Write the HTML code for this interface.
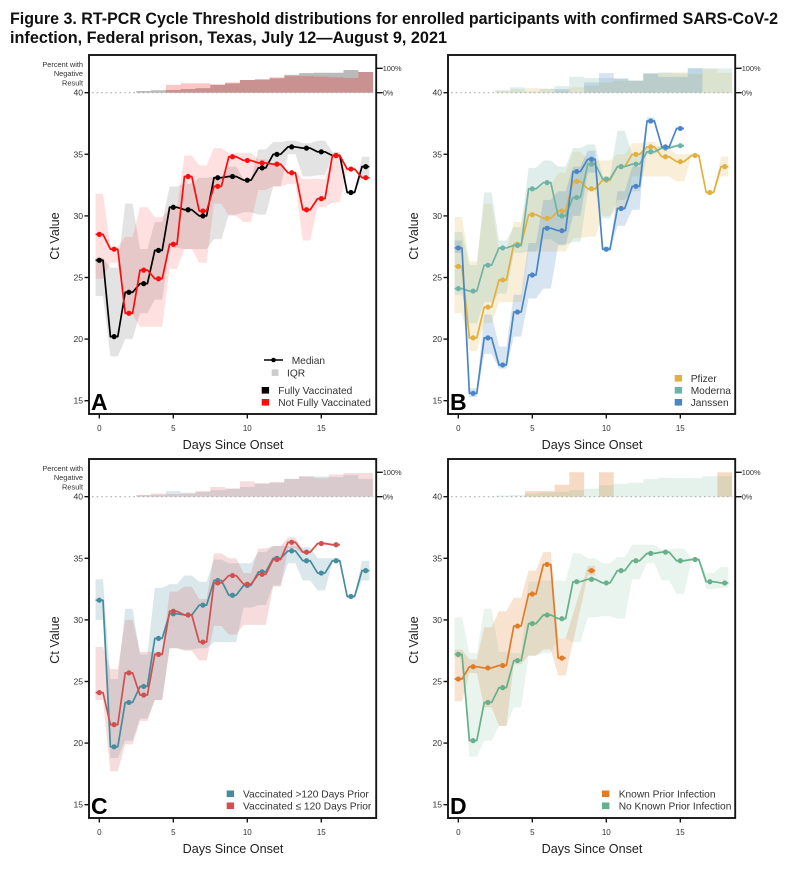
<!DOCTYPE html>
<html lang="en">
<head>
<meta charset="utf-8">
<title>Figure 3. RT-PCR Cycle Threshold distributions</title>
<style>
  html, body { margin: 0; padding: 0; background: #fff; }
  #figure { display: block; width: 786px; height: 880px; font-family: "Liberation Sans", sans-serif; }
  text { font-family: "Liberation Sans", sans-serif; }
  .panel { filter: blur(0.3px); }
</style>
</head>
<body>
<svg id="figure" xmlns="http://www.w3.org/2000/svg" width="786" height="880" viewBox="0 0 786 880">
  <rect width="786" height="880" fill="#fff"/>
  <text x="10" y="24" font-size="16.6" font-weight="700" fill="#111" textLength="768" lengthAdjust="spacingAndGlyphs">Figure 3. RT-PCR Cycle Threshold distributions for enrolled participants with confirmed SARS-CoV-2</text>
  <text x="10" y="43" font-size="16.6" font-weight="700" fill="#111" textLength="437" lengthAdjust="spacingAndGlyphs">infection, Federal prison, Texas, July 12—August 9, 2021</text>
</svg>
<script>
// ---------- axis data ----------
const xTickValues = [0, 5, 10, 15];
const yTickValues = [15, 20, 25, 30, 35, 40];
const pctTickValues = [0, 100];

// ---------- Panel A ----------
const fullyVaxMedian = [26.4, 20.2, 23.8, 24.5, 27.2, 30.7, 30.5, 30.0, 33.1, 33.2, 32.9, 33.9, 35.0, 35.6, 35.5, 35.2, 34.9, 31.9, 34.0];
const fullyVaxUpper = [26.6, 25.8, 31.0, 27.3, 29.5, 32.4, 32.6, 33.1, 33.2, 34.0, 33.0, 35.4, 36.0, 36.1, 35.9, 36.1, 35.2, 32.0, 34.8];
const fullyVaxLower = [23.5, 18.6, 20.0, 22.1, 23.2, 27.4, 27.3, 27.3, 28.1, 30.1, 30.3, 30.1, 32.4, 35.0, 33.2, 33.3, 34.9, 31.8, 33.2];
const fullyVaxNegative = [0, 0, 0, 7, 10, 11, 15, 19, 32, 38, 52, 55, 59, 73, 80, 82, 82, 93, 85];
const notFullyMedian = [28.5, 27.3, 22.1, 25.6, 24.9, 27.7, 33.2, 30.4, 32.4, 34.8, 34.5, 34.3, 34.2, 33.5, 30.5, 31.4, 34.9, 33.8, 33.1];
const notFullyUpper = [31.8, 27.5, 28.3, 30.7, 29.9, 30.6, 34.9, 34.1, 35.5, 35.1, 35.1, 34.6, 34.2, 33.6, 33.0, 33.0, 35.0, 33.9, 33.2];
const notFullyLower = [24.9, 26.2, 22.0, 21.0, 21.0, 25.7, 27.3, 26.2, 31.0, 30.0, 29.5, 32.1, 32.4, 32.6, 28.0, 30.7, 31.1, 33.7, 33.0];
const notFullyNegative = [0, 0, 0, 0, 0, 32, 38, 38, 34, 42, 52, 52, 63, 68, 68, 66, 63, 60, 85];

// ---------- Panel B ----------
const pfizerMedian = [25.9, 20.1, 22.6, 24.8, 27.7, 30.1, 29.8, 30.4, 32.8, 32.2, 32.9, 34.0, 35.0, 35.6, 34.8, 34.4, 34.9, 31.9, 34.0];
const pfizerUpper = [29.9, 26.3, 31.0, 27.2, 29.5, 32.2, 32.5, 33.5, 35.2, 34.5, 34.5, 35.0, 35.9, 36.0, 35.5, 35.0, 35.0, 32.0, 34.8];
const pfizerLower = [22.1, 19.0, 21.3, 23.0, 23.0, 27.1, 27.1, 27.1, 28.2, 28.3, 30.0, 30.5, 33.2, 33.2, 33.2, 32.8, 34.8, 31.8, 33.2];
const pfizerNegative = [0, 0, 0, 8, 14, 19, 16, 8, 22, 29, 42, 49, 49, 77, 82, 84, 77, 96, 81];
const modernaMedian = [24.1, 23.9, 26.0, 27.4, 27.6, 32.2, 32.7, 30.0, 31.5, 34.2, 33.0, 34.0, 34.2, 35.2, 35.5, 35.7];
const modernaUpper = [28.7, 26.0, 31.9, 28.0, 29.1, 33.9, 34.5, 34.0, 35.5, 35.8, 33.2, 36.9, 35.0, 35.5, 35.7, 35.8];
const modernaLower = [23.6, 21.3, 23.0, 23.7, 27.0, 27.1, 28.1, 27.7, 27.9, 32.0, 29.8, 31.3, 32.0, 35.0, 35.4, 35.6];
const modernaNegative = [0, 0, 0, 10, 22, 5, 16, 27, 65, 60, 60, 58, 49, 79, 83, 79, 100, 100, 99];
const janssenMedian = [27.4, 15.6, 20.1, 17.9, 22.2, 25.2, 29.0, 28.8, 33.6, 34.6, 27.3, 30.6, 32.4, 37.7, 35.6, 37.1];
const janssenUpper = [28.0, 16.0, 22.0, 19.4, 23.6, 27.8, 31.3, 32.0, 34.0, 35.3, 27.5, 32.0, 34.0, 38.0, 35.7, 37.2];
const janssenLower = [27.0, 15.3, 18.8, 17.6, 20.2, 23.3, 24.1, 27.6, 30.0, 33.5, 27.1, 29.2, 30.5, 37.5, 35.5, 37.0];
const janssenNegative = [0, 0, 0, 0, 0, 0, 0, 15, 0, 42, 80, 58, 50, 79, 65, 65, 100];

// ---------- Panel C ----------
const olderVaxMedian = [31.6, 19.7, 23.3, 24.6, 28.5, 30.5, 30.4, 31.2, 33.2, 32.0, 32.8, 33.9, 35.0, 35.6, 34.8, 33.8, 34.8, 31.9, 34.0];
const olderVaxUpper = [33.3, 25.2, 30.9, 27.2, 32.6, 32.9, 33.6, 33.1, 34.9, 34.6, 34.6, 35.5, 36.0, 36.0, 35.9, 35.0, 35.0, 32.0, 34.8];
const olderVaxLower = [30.0, 18.8, 20.2, 22.0, 23.5, 27.7, 27.6, 27.7, 28.2, 28.2, 31.0, 31.2, 32.8, 34.6, 33.2, 32.4, 34.7, 31.8, 33.2];
const olderVaxNegative = [0, 0, 0, 7, 8, 23, 16, 20, 27, 33, 40, 53, 57, 73, 84, 83, 80, 89, 73];
const recentVaxMedian = [24.1, 21.5, 25.7, 23.9, 27.2, 30.7, 30.4, 28.2, 33.0, 33.6, 32.9, 33.7, 34.9, 36.3, 35.5, 36.2, 36.1];
const recentVaxUpper = [27.8, 26.0, 30.0, 27.4, 27.4, 32.3, 32.7, 31.7, 35.4, 35.0, 33.8, 35.8, 36.0, 36.7, 35.6, 36.3, 36.2];
const recentVaxLower = [23.5, 17.7, 19.9, 21.8, 23.5, 27.7, 27.5, 26.7, 29.5, 28.8, 29.6, 29.6, 32.7, 35.8, 35.4, 36.1, 36.0];
const recentVaxNegative = [0, 0, 0, 7, 13, 11, 13, 23, 40, 33, 63, 55, 60, 73, 83, 76, 91, 97, 97];

// ---------- Panel D ----------
const priorInfectionMedian = [25.2, 26.2, 26.1, 26.3, 29.5, 32.1, 34.5, 26.9, null, 34.0];
const priorInfectionUpper = [27.6, 26.8, 29.4, 30.7, 31.8, 34.0, 35.5, 28.5, null, 34.4];
const priorInfectionLower = [23.4, 25.7, 22.9, 21.4, 26.4, 27.1, 27.6, 25.5, null, 33.6];
const priorInfectionNegative = [0, 0, 0, 0, 0, 23, 23, 49, 100, 0, 100, 0, 0, 0, 0, 0, 0, 0, 100];
const noPriorMedian = [27.2, 20.2, 23.3, 24.5, 26.7, 29.7, 30.4, 30.1, 33.1, 33.3, 33.0, 34.0, 34.8, 35.4, 35.5, 34.8, 34.9, 33.1, 33.0];
const noPriorUpper = [30.2, 27.3, 30.9, 27.4, 27.3, 33.1, 33.2, 33.2, 35.4, 35.0, 34.6, 35.1, 36.1, 36.1, 35.7, 35.8, 35.0, 33.8, 34.3];
const noPriorLower = [26.9, 18.9, 20.2, 21.4, 22.9, 27.1, 27.3, 28.5, 28.2, 30.2, 30.3, 30.1, 33.3, 34.6, 33.2, 32.1, 34.8, 32.5, 32.6];
const noPriorNegative = [0, 0, 0, 5, 7, 13, 17, 20, 27, 33, 47, 53, 57, 72, 77, 76, 76, 84, 84];

// ---------- panel configuration ----------
const panels = [
  { id: 'a', letter: 'A', left: 89, top: 55, showNegLabel: true, series: [
    { key: 'fully-vaccinated', color: '#000000', median: fullyVaxMedian, upper: fullyVaxUpper, lower: fullyVaxLower, negative: fullyVaxNegative, ribbonAlpha: 0.11, barAlpha: 0.27 },
    { key: 'not-fully-vaccinated', color: '#fb0d0d', median: notFullyMedian, upper: notFullyUpper, lower: notFullyLower, negative: notFullyNegative, ribbonAlpha: 0.13, barAlpha: 0.24 }
  ], legend: [
    { label: 'Fully Vaccinated', color: '#000000', sx: 261.7, tx: 278.3, base: 394 },
    { label: 'Not Fully Vaccinated', color: '#fb0d0d', sx: 261.7, tx: 278.3, base: 406 }
  ] },
  { id: 'b', letter: 'B', left: 448, top: 55, showNegLabel: false, series: [
    { key: 'pfizer', color: '#e0b040', median: pfizerMedian, upper: pfizerUpper, lower: pfizerLower, negative: pfizerNegative, ribbonAlpha: 0.2, barAlpha: 0.2 },
    { key: 'moderna', color: '#6fb3a5', median: modernaMedian, upper: modernaUpper, lower: modernaLower, negative: modernaNegative, ribbonAlpha: 0.22, barAlpha: 0.22 },
    { key: 'janssen', color: '#4a86c5', median: janssenMedian, upper: janssenUpper, lower: janssenLower, negative: janssenNegative, ribbonAlpha: 0.22, barAlpha: 0.22 }
  ], legend: [
    { label: 'Pfizer', color: '#e0b040', sx: 674.7, tx: 690.7, base: 382 },
    { label: 'Moderna', color: '#6fb3a5', sx: 674.7, tx: 690.7, base: 394 },
    { label: 'Janssen', color: '#4a86c5', sx: 674.7, tx: 690.7, base: 406 }
  ] },
  { id: 'c', letter: 'C', left: 89, top: 459, showNegLabel: true, series: [
    { key: 'vaccinated-over-120-days', color: '#458c9e', median: olderVaxMedian, upper: olderVaxUpper, lower: olderVaxLower, negative: olderVaxNegative, ribbonAlpha: 0.2, barAlpha: 0.2 },
    { key: 'vaccinated-within-120-days', color: '#d05050', median: recentVaxMedian, upper: recentVaxUpper, lower: recentVaxLower, negative: recentVaxNegative, ribbonAlpha: 0.2, barAlpha: 0.2 }
  ], legend: [
    { label: 'Vaccinated >120 Days Prior', color: '#458c9e', sx: 226.7, tx: 243, base: 797.5 },
    { label: 'Vaccinated ≤ 120 Days Prior', color: '#d05050', sx: 226.7, tx: 243, base: 809.5 }
  ] },
  { id: 'd', letter: 'D', left: 448, top: 459, showNegLabel: false, series: [
    { key: 'known-prior-infection', color: '#e07b28', median: priorInfectionMedian, upper: priorInfectionUpper, lower: priorInfectionLower, negative: priorInfectionNegative, ribbonAlpha: 0.22, barAlpha: 0.28 },
    { key: 'no-known-prior-infection', color: '#66b08a', median: noPriorMedian, upper: noPriorUpper, lower: noPriorLower, negative: noPriorNegative, ribbonAlpha: 0.14, barAlpha: 0.17 }
  ], legend: [
    { label: 'Known Prior Infection', color: '#e07b28', sx: 602, tx: 618.7, base: 797.5 },
    { label: 'No Known Prior Infection', color: '#66b08a', sx: 602, tx: 618.7, base: 809.5 }
  ] }
];

// ---------- drawing ----------
const SVG_NS = 'http://www.w3.org/2000/svg';
const root = document.getElementById('figure');

function make(tag, attrs, parent, content) {
  const node = document.createElementNS(SVG_NS, tag);
  for (const k in attrs) node.setAttribute(k, attrs[k]);
  if (content !== undefined) node.textContent = content;
  parent.appendChild(node);
  return node;
}

panels.forEach(function (panel) {
  const dy = panel.top - 55;
  const frameW = 287.2;
  const frameH = 359;
  const xScale = function (d) { return panel.left + 10.3 + 14.8 * d; };
  const yScale = function (v) { return dy + 400.7 - (v - 15) * 12.32; };
  const pctScale = function (p) { return dy + 92.7 - p * 0.244; };
  const plateau = 0.25;

  const g = make('g', { class: 'panel' }, root);
  
  

  // IQR ribbons
  panel.series.forEach(function (s) {
    let top = '', bottom = '';
    s.upper.forEach(function (u, d) {
      if (u === null) return;
      const l = s.lower[d];
      top += (top ? 'L' : 'M') + xScale(d - plateau) + ' ' + yScale(u) + 'L' + xScale(d + plateau) + ' ' + yScale(u);
      bottom = 'L' + xScale(d + plateau) + ' ' + yScale(l) + 'L' + xScale(d - plateau) + ' ' + yScale(l) + bottom;
    });
    const ribbon = make('path', { d: top + bottom + 'Z', fill: s.color, 'fill-opacity': s.ribbonAlpha }, g);
    
    
  });

  // percent-negative step bars
  panel.series.forEach(function (s) {
    let path = 'M' + xScale(-0.5) + ' ' + pctScale(0);
    s.negative.forEach(function (p, d) {
      path += 'L' + xScale(d - 0.5) + ' ' + pctScale(p) + 'L' + xScale(d + 0.5) + ' ' + pctScale(p);
    });
    path += 'L' + xScale(s.negative.length - 0.5) + ' ' + pctScale(0) + 'Z';
    const bars = make('path', { d: path, fill: s.color, 'fill-opacity': s.barAlpha }, g);
    
    
  });

  // zero-percent dotted reference line
  const dotted = make('line', { x1: panel.left + 3, x2: panel.left + frameW - 3, y1: yScale(40), y2: yScale(40), stroke: '#b0b0b0', 'stroke-width': 1.1, 'stroke-dasharray': '1.6 3' }, g);
  
  

  // median lines and markers
  panel.series.forEach(function (s) {
    let path = '';
    let pen = false;
    s.median.forEach(function (m, d) {
      if (m === null) { pen = false; return; }
      path += (pen ? 'L' : 'M') + xScale(d - plateau) + ' ' + yScale(m) + 'L' + xScale(d + plateau) + ' ' + yScale(m);
      pen = true;
    });
    const line = make('path', { d: path, fill: 'none', stroke: s.color, 'stroke-width': 1.7, 'stroke-linejoin': 'round' }, g);
    
    
    s.median.forEach(function (m, d) {
      if (m === null) return;
      const dot = make('circle', { cx: xScale(d), cy: yScale(m), r: 2.6, fill: s.color }, g);
      
      
    });
  });

  // frame
  const frame = make('rect', { x: panel.left, y: panel.top, width: frameW, height: frameH, fill: 'none', stroke: '#151515', 'stroke-width': 1.9 }, g);
  
  

  // x axis
  xTickValues.forEach(function (v) {
    const tick = make('line', { x1: xScale(v), x2: xScale(v), y1: panel.top + frameH, y2: panel.top + frameH + 4.5, stroke: '#151515', 'stroke-width': 1.4 }, g);
    
    
    const label = make('text', { x: xScale(v), y: panel.top + 376, 'font-size': 8, 'text-anchor': 'middle', fill: '#333' }, g, String(v));
    
    
  });
  const xTitle = make('text', { x: panel.left + 144, y: panel.top + 394, 'font-size': 12.6, 'text-anchor': 'middle', fill: '#222' }, g, 'Days Since Onset');
  
  

  // y axis
  yTickValues.forEach(function (v) {
    const tick = make('line', { x1: panel.left - 4.5, x2: panel.left, y1: yScale(v), y2: yScale(v), stroke: '#151515', 'stroke-width': 1.4 }, g);
    
    
    const label = make('text', { x: panel.left - 6, y: yScale(v) + 3, 'font-size': 8.6, 'text-anchor': 'end', fill: '#333' }, g, String(v));
    
    
  });
  const yTitleX = panel.left - 30;
  const yTitleY = dy + 236;
  const yTitle = make('text', { x: yTitleX, y: yTitleY, 'font-size': 12.6, 'text-anchor': 'middle', fill: '#222', transform: 'rotate(-90 ' + yTitleX + ' ' + yTitleY + ')' }, g, 'Ct Value');
  
  

  // right percent axis
  pctTickValues.forEach(function (p) {
    const tick = make('line', { x1: panel.left + frameW, x2: panel.left + frameW + 6.5, y1: pctScale(p), y2: pctScale(p), stroke: '#151515', 'stroke-width': 1.4 }, g);
    
    
    const label = make('text', { x: panel.left + frameW + 6.5, y: pctScale(p) + 2.6, 'font-size': 7.4, fill: '#333' }, g, p + '%');
    
    
  });

  // "Percent with Negative Result" caption
  if (panel.showNegLabel) {
    ['Percent with', 'Negative', 'Result'].forEach(function (word, i) {
      const cap = make('text', { x: panel.left - 6, y: dy + 67 + i * 9.2, 'font-size': 7.4, 'text-anchor': 'end', fill: '#333' }, g, word);
      
      
    });
  }

  // panel letter
  const letter = make('text', { x: panel.left + 2, y: panel.top + frameH - 4, 'font-size': 23, 'font-weight': 700, fill: '#000' }, g, panel.letter);
  
  

  // legend
  panel.legend.forEach(function (entry) {
    const swatch = make('rect', { x: entry.sx, y: entry.base - 7, width: 7.4, height: 6.6, fill: entry.color }, g);
    
    
    const text = make('text', { x: entry.tx, y: entry.base, 'font-size': 10.2, fill: '#333' }, g, entry.label);
    
    
  });

  // median / IQR key (panel A only)
  if (panel.id === 'a') {
    const keyLine = make('line', { x1: 264, x2: 283, y1: 360, y2: 360, stroke: '#000', 'stroke-width': 1.5 }, g);
    
    
    const keyDot = make('circle', { cx: 273.5, cy: 360, r: 2.3, fill: '#000' }, g);
    
    
    const keyMedian = make('text', { x: 291.7, y: 364, 'font-size': 10.2, fill: '#333' }, g, 'Median');
    
    
    const keyBox = make('rect', { x: 271.7, y: 369.3, width: 6.8, height: 6.6, fill: '#cccccc' }, g);
    
    
    const keyIqr = make('text', { x: 287, y: 376.5, 'font-size': 10.2, fill: '#333' }, g, 'IQR');
    
    
  }
});
</script>
</body>
</html>
